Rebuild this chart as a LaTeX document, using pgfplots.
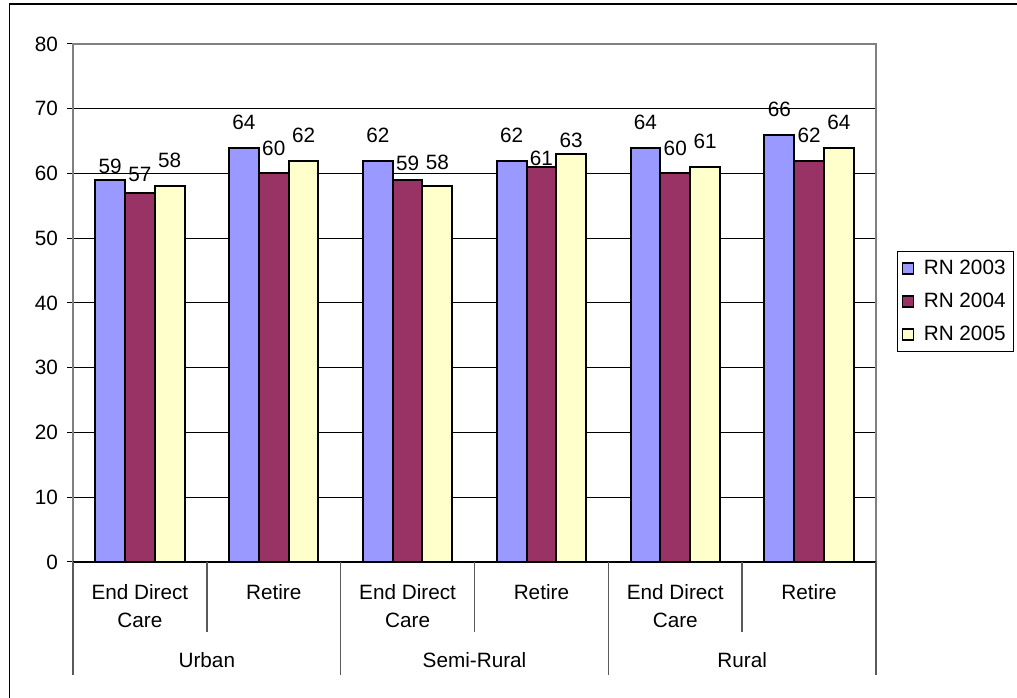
\documentclass[border=0pt]{standalone}
\usepackage{fontspec}
\setmainfont{Liberation Sans}
\usepackage{pgfplots}
\usepackage{pgfplotstable}
\pgfplotsset{compat=1.18}
\definecolor{c03}{HTML}{9999FF}
\definecolor{c04}{HTML}{993366}
\definecolor{c05}{HTML}{FFFFCC}
\definecolor{framegray}{HTML}{808080}
\newcommand{\chartfont}{\fontsize{20.8}{28}\selectfont}
% x, values, and label offsets (bp above bar top)
\pgfplotstableread{
x y03 o03 y04 o04 y05 o05
0 59 5  57 10  58 18
1 64 17 60 17  62 17
2 62 17 59 8   58 16
3 62 17 61 0   63 5
4 64 17 60 17  61 17
5 66 17 62 17  64 17
}\data
\begin{document}
\begin{tikzpicture}[x=1bp,y=1bp]
\useasboundingbox (0,0) rectangle (1017,698);
\draw[line width=1.3bp] (9.5,-20) -- (9.5,694) -- (1040,694);
\begin{axis}[
  at={(73bp,136bp)}, anchor=south west,
  scale only axis, width=803bp, height=518bp,
  xmin=-0.5, xmax=5.5, ymin=0, ymax=80,
  ytick={0,10,...,80},
  /pgf/number format/assume math mode=true,
  tick label style={font=\chartfont},
  yticklabel style={anchor=east, inner sep=0pt, xshift=-9bp},
  tick align=outside, major tick length=6bp,
  ytick pos=left,
  xtick={0,1,2,3,4,5},
  xticklabels={End Direct\\Care, Retire, End Direct\\Care, Retire, End Direct\\Care, Retire},
  xticklabel style={align=center, anchor=north, inner sep=0pt, yshift=-16bp},
  x tick style={draw=none},
  y tick style={black, line width=1bp},
  ymajorgrids, grid style={black, line width=1bp},
  axis line style={draw=framegray, line width=2bp},
  ybar=0pt, bar width=29.8bp,
  nodes near coords,
  every node near coord/.append style={font=\chartfont, inner sep=0pt, black},
  legend style={at={(1,0.503)}, anchor=west, xshift=21bp, draw=black, line width=1bp,
    font=\chartfont, cells={anchor=west}, row sep=9bp, column sep=6bp, inner xsep=4bp, inner ysep=5bp,
    nodes={inner xsep=4bp, inner ysep=4bp}},
  legend image code/.code={\draw[#1, line width=1.3bp] (0bp,-5.5bp) rectangle (11bp,5.5bp);},
  clip=false,
]
\addplot[fill=c03, draw=black, line width=2bp,
  visualization depends on={\thisrow{o03}\as\off},
  every node near coord/.append style={yshift=\off bp}] table[x=x,y=y03]{\data};
\addplot[fill=c04, draw=black, line width=2bp,
  visualization depends on={\thisrow{o04}\as\off},
  every node near coord/.append style={yshift=\off bp}] table[x=x,y=y04]{\data};
\addplot[fill=c05, draw=black, line width=2bp,
  visualization depends on={\thisrow{o05}\as\off},
  every node near coord/.append style={yshift=\off bp}] table[x=x,y=y05]{\data};
\legend{RN 2003, RN 2004, RN 2005}
\draw[black, line width=1.5bp] (axis cs:-0.5,0) -- (axis cs:5.5,0);
\draw[framegray!70!black, line width=1.5bp] (axis cs:0.5,0) -- ([yshift=-70bp]axis cs:0.5,0);
\draw[framegray!70!black, line width=1.5bp] (axis cs:2.5,0) -- ([yshift=-70bp]axis cs:2.5,0);
\draw[framegray!70!black, line width=1.5bp] (axis cs:4.5,0) -- ([yshift=-70bp]axis cs:4.5,0);
\draw[framegray!70!black, line width=1.5bp] (axis cs:-0.5,0) -- ([yshift=-113bp]axis cs:-0.5,0);
\draw[framegray!70!black, line width=1.5bp] (axis cs:1.5,0) -- ([yshift=-113bp]axis cs:1.5,0);
\draw[framegray!70!black, line width=1.5bp] (axis cs:3.5,0) -- ([yshift=-113bp]axis cs:3.5,0);
\draw[framegray!70!black, line width=1.5bp] (axis cs:5.5,0) -- ([yshift=-113bp]axis cs:5.5,0);
\node[font=\chartfont, anchor=base] at ([yshift=-106bp]axis cs:0.5,0) {Urban};
\node[font=\chartfont, anchor=base] at ([yshift=-106bp]axis cs:2.5,0) {Semi-Rural};
\node[font=\chartfont, anchor=base] at ([yshift=-106bp]axis cs:4.5,0) {Rural};
\end{axis}
\end{tikzpicture}
\end{document}
